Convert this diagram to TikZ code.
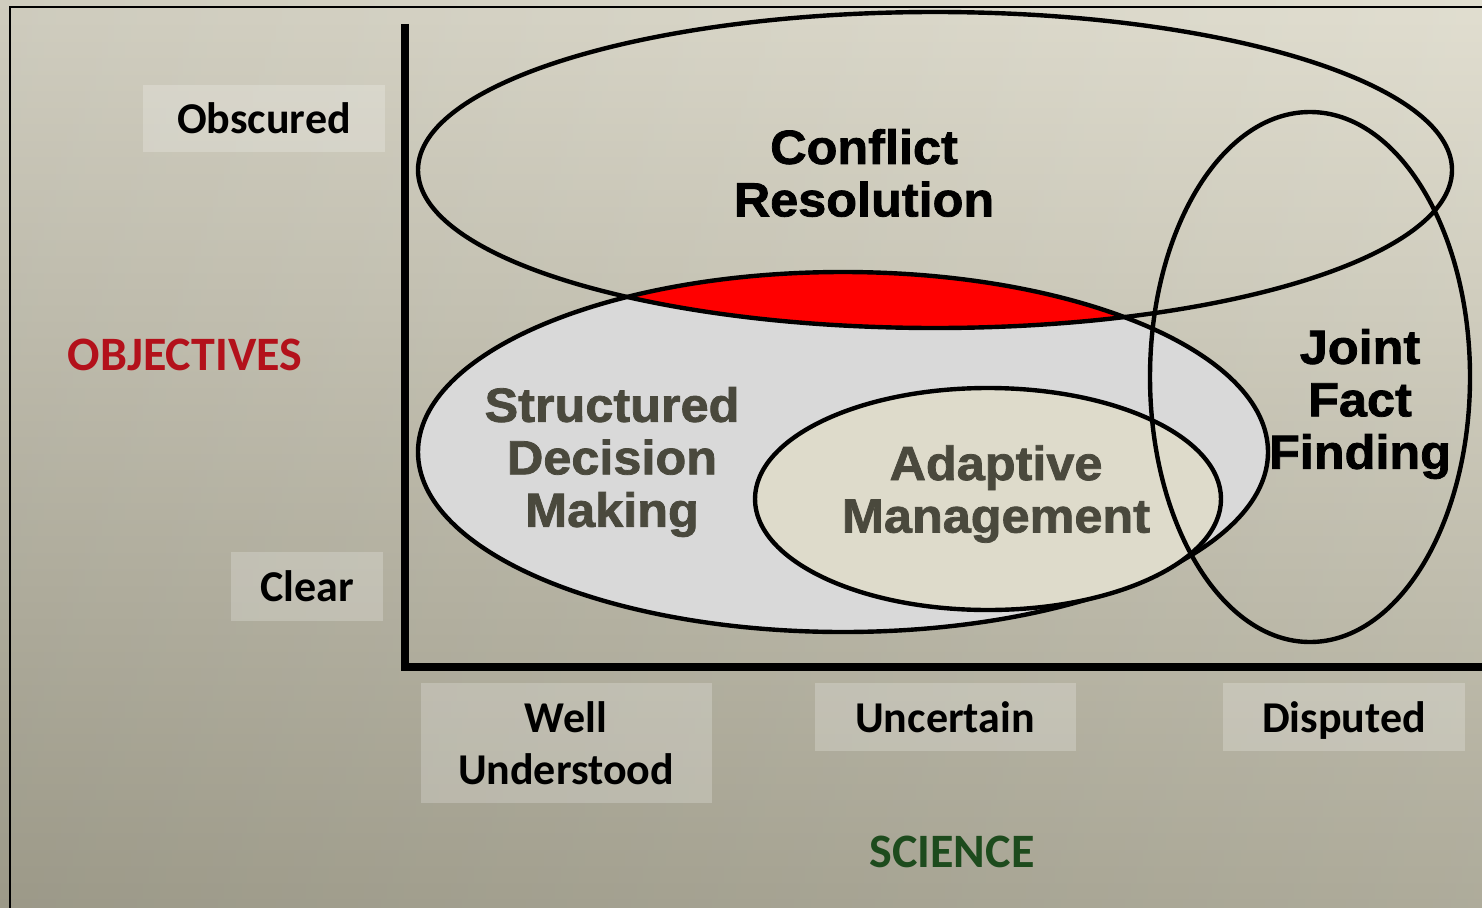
\documentclass[tikz,border=0pt]{standalone}
\usepackage{fontspec}
\setmainfont{Liberation Sans}
\newfontfamily\blackfont[BoldFeatures={FakeBold=1.6, FakeStretch=1.05}]{Liberation Sans}
\newfontfamily\calibri{Carlito}
\usepackage{xcolor}

\definecolor{bgtop}{HTML}{DFDCCD}
\definecolor{bgbottom}{HTML}{A8A593}
\definecolor{sdmgray}{HTML}{D9D9D9}
\definecolor{adaptbeige}{HTML}{DEDBCB}
\definecolor{ovalink}{HTML}{4A493D}
\definecolor{objred}{HTML}{B3111B}
\definecolor{scigreen}{HTML}{1D4B1D}

\tikzset{
    oval/.style={line width=4.4pt},
    ovaltext/.style={font=\blackfont\bfseries\fontsize{48}{52.5}\selectfont, align=center, inner sep=0pt},
    tagbox/.style={fill=white, fill opacity=0.22, text opacity=1, inner sep=0pt,
        font=\calibri\bfseries\fontsize{44}{52}\selectfont, align=center},
    onetag/.style={tagbox, text height=33pt, text depth=3pt},
    axistitle/.style={font=\calibri\bfseries\fontsize{48}{52}\selectfont, inner sep=0pt}
}

\begin{document}
\begin{tikzpicture}[x=1pt, y=-1pt]
    \clip (0,0) rectangle (1482,907);
    \shade[top color=bgtop, bottom color=bgbottom] (0,0) rectangle (1482,907);
    \shade[left color=black, right color=white, opacity=0.07] (0,0) rectangle (1482,907);
    \draw[line width=2pt] (10,7) rectangle (1520,940);

    \fill[sdmgray] (843,452) ellipse [x radius=425, y radius=180];
    \begin{scope}
        \clip (935,170) ellipse [x radius=517, y radius=158];
        \fill[red] (843,452) ellipse [x radius=425, y radius=180];
    \end{scope}
    \draw[oval] (843,452) ellipse [x radius=425, y radius=180];
    \draw[oval] (935,170) ellipse [x radius=517, y radius=158];
    \draw[oval, fill=adaptbeige] (988,499) ellipse [x radius=233, y radius=111];
    \draw[oval] (1310,377) ellipse [x radius=160, y radius=265];

    \draw[line width=8.5pt] (405,24) -- (405,667);
    \draw[line width=8.5pt] (401,667) -- (1482,667);

    \node[ovaltext] (conflict) at (864,173) {Conflict\\Resolution};
    \node[ovaltext, text=ovalink] (sdm) at (612,462) {Structured\\Decision\\Making};
    \node[ovaltext, text=ovalink] (adaptive) at (996,494) {Adaptive\\Management};
    \node[ovaltext] (jff) at (1360,404) {Joint\\Fact\\Finding};

    \node[onetag, minimum width=242pt, minimum height=67pt] (obscured) at (264,118) {Obscured};
    \node[onetag, minimum width=152pt, minimum height=69pt] (clear) at (307,586) {Clear};
    \node[tagbox, minimum width=291pt, minimum height=120pt] (well) at (566,743) {Well\\Understood};
    \node[onetag, minimum width=261pt, minimum height=68pt] (uncertain) at (945,717) {Uncertain};
    \node[onetag, minimum width=242pt, minimum height=68pt] (disputed) at (1344,717) {Disputed};

    \node[axistitle, text=objred] (objectives) at (185,355) {OBJECTIVES};
    \node[axistitle, text=scigreen] (science) at (952,852) {SCIENCE};
\end{tikzpicture}
\end{document}
